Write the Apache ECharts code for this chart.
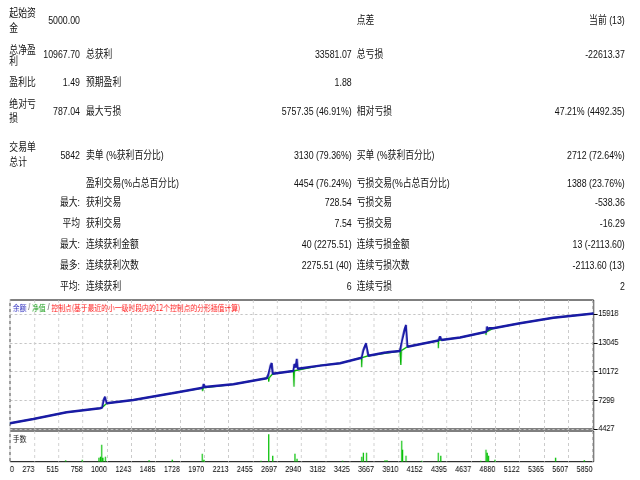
<!DOCTYPE html>
<html>
<head>
<meta charset="utf-8">
<script src="https://cdn.jsdelivr.net/npm/echarts@6/dist/echarts.min.js"></script>
<style>
html,body{margin:0;padding:0;background:#fff;overflow:hidden;width:640px;height:480px;}
#wrap{position:absolute;left:0;top:0;width:800px;height:480px;transform:scaleX(0.8);transform-origin:0 0;}
#chart{position:absolute;left:0;top:0;width:800px;height:480px;}
.t{position:absolute;white-space:nowrap;font-family:"Liberation Sans","Noto Sans CJK SC",sans-serif;font-size:11px;line-height:14px;color:#111;}
</style>
</head>
<body>
<div id="wrap"><div id="chart"></div></div>
<script>
// ---------- statistics table ----------
const colALabels = [['起始资','金'], ['总净盈','利'], ['盈利比'], ['绝对亏','损'], ['交易单','总计'], [], [], [], [], [], []];
const colAValues = ['5000.00', '10967.70', '1.49', '787.04', '5842', '', '最大:', '平均', '最大:', '最多:', '平均:'];
const colBLabels = ['', '总获利', '预期盈利', '最大亏损', '卖单 (%获利百分比)', '盈利交易(%占总百分比)', '获利交易', '获利交易', '连续获利金额', '连续获利次数', '连续获利'];
const colBValues = ['', '33581.07', '1.88', '5757.35 (46.91%)', '3130 (79.36%)', '4454 (76.24%)', '728.54', '7.54', '40 (2275.51)', '2275.51 (40)', '6'];
const colCLabels = ['点差', '总亏损', '', '相对亏损', '买单 (%获利百分比)', '亏损交易(%占总百分比)', '亏损交易', '亏损交易', '连续亏损金额', '连续亏损次数', '连续亏损'];
const colCValues = ['当前 (13)', '-22613.37', '', '47.21% (4492.35)', '2712 (72.64%)', '1388 (23.76%)', '-538.36', '-16.29', '13 (-2113.60)', '-2113.60 (13)', '2'];

// ---------- chart data ----------
const xTickValues = [30, 273, 515, 758, 1000, 1243, 1485, 1728, 1970, 2213, 2455, 2697, 2940, 3182, 3425, 3667, 3910, 4152, 4395, 4637, 4880, 5122, 5365, 5607, 5850];
const xTickLabels = ['0', '273', '515', '758', '1000', '1243', '1485', '1728', '1970', '2213', '2455', '2697', '2940', '3182', '3425', '3667', '3910', '4152', '4395', '4637', '4880', '5122', '5365', '5607', '5850'];
const yTickValues = [4427, 7299, 10172, 13045, 15918];
const yTickLabels = ['4427', '7299', '10172', '13045', '15918'];
const legendNames = ['余额', '净值', '控制点(基于最近的小一级时段内的12个控制点的分形插值计算)'];
const volumeTitle = '手数';

// balance: [trade #, balance]
const balancePoints = [
  [30, 5000], [263, 5430], [596, 6100], [929, 6500], [950, 6560], [965, 7300], [979, 7650], [990, 7200], [996, 7000],
  [1262, 7330], [1648, 7990], [1655, 8150], [1665, 8030], [1955, 8550], [1965, 8900], [1975, 8620], [2261, 8900],
  [2594, 9500], [2610, 9820], [2630, 10700], [2644, 11000], [2655, 9950], [2860, 10230], [2870, 10900], [2885, 10600],
  [2895, 11420], [2905, 10450], [3127, 10760], [3327, 11000], [3543, 11550], [3560, 12300], [3586, 12990], [3610, 11750],
  [3780, 12060], [3793, 12250], [3800, 12100], [3926, 12230], [3945, 13200], [3975, 14500], [3986, 14820], [4000, 12650],
  [4310, 13280], [4326, 13650], [4340, 13330], [4526, 13560], [4790, 14150], [4795, 14650], [4805, 14300], [4815, 14500],
  [4858, 14490], [5125, 14990], [5458, 15550], [5860, 15968]
];
// equity: [trade #, equity]
const equityPoints = [
  [30, 5000], [263, 5430], [596, 6100], [929, 6500], [940, 6390], [950, 6560], [996, 7000], [1262, 7330], [1648, 7990],
  [1950, 8530], [1955, 8220], [1962, 8560], [2261, 8900], [2594, 9500], [2612, 9520], [2614, 9150], [2620, 9560],
  [2655, 9950], [2860, 10230], [2867, 8650], [2872, 10240], [3127, 10760], [3327, 11000], [3540, 11540], [3543, 10590],
  [3548, 11560], [3610, 11750], [3926, 12230], [3934, 10820], [3940, 12260], [4000, 12650], [4308, 13270], [4310, 12490],
  [4314, 13290], [4526, 13560], [4783, 14130], [4785, 13820], [4790, 14150], [4858, 14490], [5125, 14990], [5458, 15550],
  [5860, 15968]
];
// volume (lots): [trade #, lots]
const volumePoints = [
  [586, 0.15], [752, 0.2], [919, 0.4], [934, 0.5], [946, 1.7], [959, 0.4], [982, 0.5], [1419, 0.15], [1651, 0.2],
  [1951, 0.8], [1968, 0.2], [2537, 0.1], [2614, 2.74], [2654, 0.6], [2877, 0.8], [2897, 0.3], [3354, 0.1],
  [3543, 0.5], [3561, 0.9], [3593, 0.9], [3776, 0.15], [3796, 0.15], [3943, 2.1], [3953, 1.2], [3986, 0.6],
  [4143, 0.1], [4309, 0.9], [4333, 0.6], [4732, 0.1], [4785, 1.2], [4798, 0.9], [4810, 0.6], [4875, 0.2],
  [5481, 0.4], [5767, 0.15]
];

// ---------- table layout ----------
const W = 800;
const rowY = [19.5, 54.3, 81.7, 111, 154.5, 183.3, 202.3, 223.3, 244.3, 265, 285.7];
const labelLineY = [[13.3, 28.3], [50, 61], [81.7], [104.3, 118.3], [146.7, 161.7]];
const X_A_LABEL = 11.7, X_A_VALUE = 100, X_B_LABEL = 107.5, X_B_VALUE = 439.6, X_C_LABEL = 446, X_C_VALUE = 781;
const wrap = document.getElementById('wrap');
function place(text, x, yc, align) {
  if (!text) return;
  const d = document.createElement('div');
  d.className = 't';
  d.textContent = text;
  d.style.top = (yc - 7) + 'px';
  if (align === 'right') d.style.right = (W - x) + 'px';
  else d.style.left = x + 'px';
  wrap.appendChild(d);
}
for (let i = 0; i < rowY.length; i++) {
  const lines = colALabels[i];
  for (let j = 0; j < lines.length; j++) place(lines[j], X_A_LABEL, labelLineY[i][j], 'left');
  place(colAValues[i], X_A_VALUE, rowY[i], 'right');
  place(colBLabels[i], X_B_LABEL, rowY[i], 'left');
  place(colBValues[i], X_B_VALUE, rowY[i], 'right');
  place(colCLabels[i], X_C_LABEL, i === 0 ? 20 : rowY[i], 'left');
  place(colCValues[i], X_C_VALUE, i === 0 ? 20 : rowY[i], 'right');
}

// ---------- chart ----------
function xLabel(v) {
  const i = xTickValues.indexOf(v);
  return i >= 0 ? xTickLabels[i] : '';
}
function yLabel(v) {
  const i = yTickValues.indexOf(v);
  return i >= 0 ? yTickLabels[i] : '';
}
const gridLine = { show: true, lineStyle: { color: '#c4c4c4', type: [3, 3], width: 1 } };
const chart = echarts.init(document.getElementById('chart'));
chart.setOption({
  animation: false,
  backgroundColor: '#fff',
  grid: [
    { left: 12.5, top: 300, width: 729.5, height: 129, show: true, borderColor: '#000', borderWidth: 1 },
    { left: 12.5, top: 431, width: 729.5, height: 30.7, show: true, borderColor: '#000', borderWidth: 1 }
  ],
  xAxis: [
    { gridIndex: 0, type: 'value', min: 30, max: 5860,
      axisLine: { show: false }, axisTick: { show: false, customValues: xTickValues },
      axisLabel: { show: false, customValues: xTickValues }, splitLine: gridLine },
    { gridIndex: 1, type: 'value', min: 30, max: 5860,
      axisLine: { show: false }, axisTick: { show: false, customValues: xTickValues },
      axisLabel: { show: true, customValues: xTickValues, formatter: xLabel, align: 'right', alignMinLabel: 'left',
        fontSize: 9, color: '#000', margin: 3, fontFamily: 'Liberation Sans' },
      splitLine: gridLine }
  ],
  yAxis: [
    { gridIndex: 0, type: 'value', position: 'right', min: 4427, max: 17317,
      axisLine: { show: false },
      axisTick: { show: true, length: 5, lineStyle: { color: '#000' }, customValues: yTickValues },
      axisLabel: { customValues: yTickValues, formatter: yLabel, fontSize: 9, color: '#000', margin: 6, fontFamily: 'Liberation Sans' },
      splitLine: gridLine },
    { gridIndex: 1, type: 'value', min: 0, max: 3.07, show: false, splitLine: { show: false } }
  ],
  series: [
    { name: legendNames[1], type: 'line', xAxisIndex: 0, yAxisIndex: 0, data: equityPoints, showSymbol: false,
      lineStyle: { color: '#00b400', width: 1.5 }, itemStyle: { color: '#00b400' } },
    { name: legendNames[0], type: 'line', xAxisIndex: 0, yAxisIndex: 0, data: balancePoints, showSymbol: false,
      lineStyle: { color: '#1a1aa6', width: 2.5 }, itemStyle: { color: '#1a1aa6' } },
    { name: volumeTitle, type: 'bar', xAxisIndex: 1, yAxisIndex: 1, data: volumePoints, barWidth: 1.5,
      itemStyle: { color: '#00c000' } }
  ],
  graphic: [
    { type: 'text', left: 16, top: 303, z: 10,
      style: {
        text: '{b|' + legendNames[0] + '}{g| / }{q|' + legendNames[1] + '}{g| / }{r|' + legendNames[2] + '}',
        rich: {
          b: { fill: '#3030c0', fontSize: 8.5, fontFamily: 'Noto Sans CJK SC' },
          g: { fill: '#555', fontSize: 8.5, fontFamily: 'Liberation Sans' },
          q: { fill: '#20a020', fontSize: 8.5, fontFamily: 'Noto Sans CJK SC' },
          r: { fill: '#ff1a1a', fontSize: 8.5, fontFamily: 'Noto Sans CJK SC' }
        }
      } },
    { type: 'text', left: 16, top: 435, z: 10,
      style: { text: volumeTitle, fill: '#111', fontSize: 8.5, fontFamily: 'Noto Sans CJK SC' } }
  ]
});
</script>
</body>
</html>
